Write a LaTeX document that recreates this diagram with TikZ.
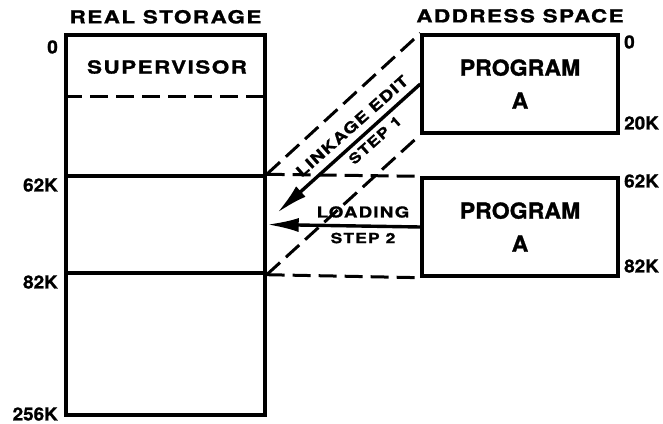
\documentclass[tikz,border=0pt]{standalone}
\usepackage{fontspec}
\setmainfont[FakeStretch=1.25, LetterSpace=8, FakeBold=1.2]{TeX Gyre Heros}
\newfontfamily\numfont[FakeStretch=1.05, FakeBold=1.2]{TeX Gyre Heros}
\usetikzlibrary{positioning}
\usetikzlibrary{arrows.meta}
\tikzstyle{region} = [rectangle, draw, line width=3.4pt, minimum width=199pt, inner sep=0pt]
\tikzstyle{prog} = [rectangle, draw, line width=3.4pt, minimum width=196pt,
                minimum height=98pt, align=center, font=\numfont\fontsize{22}{33}\selectfont\bfseries]
\tikzstyle{dashline} = [draw, line width=3pt, dash pattern=on 18pt off 8pt]
\tikzstyle{line} = [draw, line width=3.4pt, -{Latex[length=32pt,width=14pt]}]
\tikzstyle{title} = [font=\fontsize{18}{20}\selectfont\bfseries, inner sep=0pt]
\tikzstyle{addrL} = [font=\numfont\fontsize{18}{18}\selectfont\bfseries, inner sep=0pt, anchor=east]
\tikzstyle{addrR} = [font=\numfont\fontsize{18}{18}\selectfont\bfseries, inner sep=0pt, anchor=west]
\tikzstyle{lbl} = [font=\fontsize{15}{16}\selectfont\bfseries, inner sep=0pt]
\tikzstyle{steplbl} = [font=\fontsize{14}{16}\selectfont\bfseries, inner sep=0pt]

\begin{document}
\begin{tikzpicture}[x=1pt,y=-1pt]
                \useasboundingbox (0,0) rectangle (663,423);
                % real storage
                \node[region, minimum height=141pt](super) at (165.5,105.5){};
                \node[region, minimum height=97pt](slot) at (165.5,224.5){};
                \node[region, minimum height=142pt](free) at (165.5,344){};
                \node[title, above=9.5pt of super.north](realtitle){REAL STORAGE};
                \node[title](supervisor) at (167,67){SUPERVISOR};
                \path[dashline] (super.west |- 0,96) -- (super.east |- 0,96);
                % address space
                \node[prog](proga) at (520,84){PROGRAM\\A};
                \node[prog](progb) at (520,227){PROGRAM\\A};
                \node[title, above=10.5pt of proga.north](addrtitle){ADDRESS SPACE};
                % addresses
                \node[addrL](r0) at (58,47){0};
                \node[addrL](r62) at (58,185){62K};
                \node[addrL](r82) at (58,282){82K};
                \node[addrL](r256) at (58,414){256K};
                \node[addrR](a0) at (624,42){0};
                \node[addrR](a20) at (624,123){20K};
                \node[addrR](a62) at (624,181){62K};
                \node[addrR](a82) at (624,266){82K};
                % mapping
                \path[dashline] (slot.north east) -- (proga.north west);
                \path[dashline] (slot.south east) -- (proga.south west);
                \path[dashline] (slot.north east) -- (progb.north west);
                \path[dashline] (slot.south east) -- (progb.south west);
                \coordinate (tip1) at (277,213);
                \path[line] (proga.west) -- (tip1);
                \path[line] (progb.west) -- (slot.east);
                \node[lbl, rotate=41.5](edit) at (352,126){LINKAGE EDIT};
                \node[steplbl, rotate=41.5](step1) at (375,140){STEP 1};
                \node[lbl](loading) at (363,212){LOADING};
                \node[steplbl](step2) at (363,238){STEP 2};
            \end{tikzpicture}
\end{document}
